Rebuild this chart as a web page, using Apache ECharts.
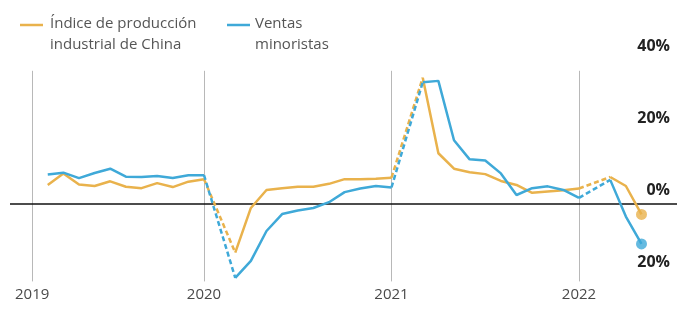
<!DOCTYPE html>
<html lang="es">
<head>
    <meta charset="UTF-8">
    <title>Producción industrial y ventas minoristas de China</title>
    <script src="https://cdn.jsdelivr.net/npm/echarts@6.0.0/dist/echarts.min.js"></script>
    <style>
        html, body { margin: 0; padding: 0; background: #fff; }
        #chart { width: 677px; height: 309px; }
    </style>
</head>
<body>
<div id="chart"></div>
<script>
    // periodos: 'AAAA-02' es el dato combinado enero-febrero
    var periods = [
        '2019-02', '2019-03', '2019-04', '2019-05', '2019-06', '2019-07', '2019-08', '2019-09', '2019-10', '2019-11', '2019-12',
        '2020-02', '2020-03', '2020-04', '2020-05', '2020-06', '2020-07', '2020-08', '2020-09', '2020-10', '2020-11', '2020-12',
        '2021-02', '2021-03', '2021-04', '2021-05', '2021-06', '2021-07', '2021-08', '2021-09', '2021-10', '2021-11', '2021-12',
        '2022-02', '2022-03', '2022-04'
    ];
    // % interanual
    var industria = [
        5.3, 8.5, 5.4, 5.0, 6.3, 4.8, 4.4, 5.8, 4.7, 6.2, 6.9,
        -13.5, -1.1, 3.9, 4.4, 4.8, 4.8, 5.6, 6.9, 6.9, 7.0, 7.3,
        35.1, 14.1, 9.8, 8.8, 8.3, 6.4, 5.3, 3.1, 3.5, 3.8, 4.3,
        7.5, 5.0, -2.9
    ];
    var minoristas = [
        8.2, 8.7, 7.2, 8.6, 9.8, 7.6, 7.5, 7.8, 7.2, 8.0, 8.0,
        -20.5, -15.8, -7.5, -2.8, -1.8, -1.1, 0.5, 3.3, 4.3, 5.0, 4.6,
        33.8, 34.2, 17.7, 12.4, 12.1, 8.5, 2.5, 4.4, 4.9, 3.9, 1.7,
        6.7, -3.5, -11.1
    ];
    var years = ['2019', '2020', '2021', '2022'];
    var yearTicks = [1, 12, 24, 36];      // meses desde ene-2019
    var yTicks = [-20, 0, 20, 40];

    var ORANGE = '#E9B24C';
    var BLUE = '#3FA9D8';

    // fin de mes -> indice de mes (dic-2019 = 12, sobre la linea de 2020)
    function pos(p) {
        var a = p.split('-');
        return (+a[0] - 2019) * 12 + (+a[1]);
    }

    function build(vals) {
        var solid = [], dashed = [];
        periods.forEach(function (p, i) {
            var x = pos(p);
            if (i > 0 && x - pos(periods[i - 1]) > 1) {
                solid.push([x - 1, null]);
                dashed.push([pos(periods[i - 1]), vals[i - 1]], [x, vals[i]], [x + 0.5, null]);
            }
            solid.push([x, vals[i]]);
        });
        return { solid: solid, dashed: dashed };
    }

    var ip = build(industria);
    var ret = build(minoristas);
    var last = periods.length - 1;

    var chart = echarts.init(document.getElementById('chart'));

    function lineSeries(name, data, color, dashed, extra) {
        var s = {
            name: name,
            type: 'line',
            data: data,
            showSymbol: false,
            connectNulls: false,
            silent: true,
            lineStyle: { color: color, width: 2.5, type: dashed ? [5, 3] : 'solid' },
            itemStyle: { color: color },
            z: 3
        };
        return Object.assign(s, extra || {});
    }

    var marks = yearTicks.map(function (m) {
        return [{ coord: [m, 37] }, { coord: [m, -21.5] }];
    });
    marks.push({ yAxis: 0, lineStyle: { color: '#111', width: 1.5, type: 'solid' } });

    var option = {
        animation: false,
        backgroundColor: '#fff',
        grid: { left: 10, right: 0, top: 60, height: 223.2 },
        xAxis: {
            type: 'value',
            min: -0.416,
            max: 42.272,
            axisLine: { show: false },
            axisTick: { show: false },
            splitLine: { show: false },
            axisLabel: {
                customValues: yearTicks,
                formatter: function (v) { return years[yearTicks.indexOf(v)]; },
                color: '#4a4a4a',
                fontFamily: 'Open Sans',
                fontSize: 15,
                margin: 4
            }
        },
        yAxis: {
            type: 'value',
            position: 'right',
            min: -22,
            max: 40,
            axisLine: { show: false },
            axisTick: { show: false },
            splitLine: { show: false },
            axisLabel: {
                inside: true,
                customValues: yTicks,
                formatter: function (v) { return Math.abs(v) + '%'; },
                align: 'right',
                verticalAlign: 'bottom',
                padding: [0, 0, 6, 0],
                margin: 7,
                color: '#222',
                fontFamily: 'Open Sans',
                fontWeight: 'bold',
                fontSize: 16
            }
        },
        graphic: [
            {
                type: 'text', left: 15, top: -11, silent: true,
                style: { text: 'INDICADORES DE PRODUCCIÓN', fill: '#666', font: 'bold 14px "Open Sans"' }
            },
            {
                type: 'line', silent: true,
                shape: { x1: 20, y1: 25, x2: 43, y2: 25 },
                style: { stroke: ORANGE, lineWidth: 2.5 }
            },
            {
                type: 'text', x: 50, y: 13, silent: true,
                style: {
                    text: 'Índice de producción\nindustrial de China',
                    fill: '#555', font: '15px "Open Sans"', lineHeight: 21, verticalAlign: 'top'
                }
            },
            {
                type: 'line', silent: true,
                shape: { x1: 227, y1: 25, x2: 250, y2: 25 },
                style: { stroke: BLUE, lineWidth: 2.5 }
            },
            {
                type: 'text', x: 255, y: 13, silent: true,
                style: {
                    text: 'Ventas\nminoristas',
                    fill: '#555', font: '15px "Open Sans"', lineHeight: 21, verticalAlign: 'top'
                }
            }
        ],
        series: [
            lineSeries('Índice de producción industrial de China', ip.solid, ORANGE, false, {
                markLine: {
                    silent: true,
                    symbol: 'none',
                    label: { show: false },
                    lineStyle: { color: '#b8b8b8', width: 1, type: 'solid' },
                    data: marks,
                    z: 1
                }
            }),
            lineSeries('Ventas minoristas', ret.solid, BLUE, false),
            lineSeries('ip-dashed', ip.dashed, ORANGE, true),
            lineSeries('ret-dashed', ret.dashed, BLUE, true),
            {
                type: 'scatter',
                silent: true,
                symbolSize: 11,
                z: 4,
                data: [
                    { value: [pos(periods[last]), industria[last]], itemStyle: { color: ORANGE } },
                    { value: [pos(periods[last]), minoristas[last]], itemStyle: { color: BLUE } }
                ]
            }
        ]
    };

    chart.setOption(option);
</script>
</body>
</html>
